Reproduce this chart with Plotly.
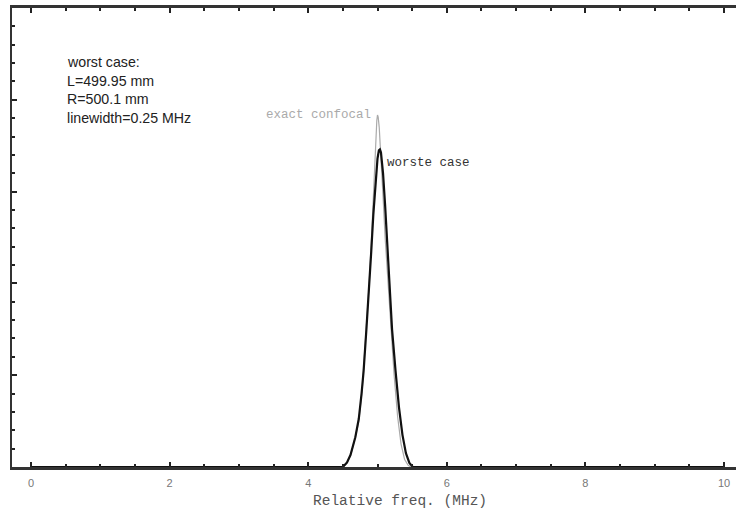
import plotly.graph_objects as go

# Data (x in MHz, y relative transmission)
x_exact = [0.0, 2.0, 4.0, 4.50, 4.56, 4.62, 4.68, 4.73, 4.78, 4.84, 4.88, 4.92, 4.95, 4.975, 4.99, 5.0,
           5.01, 5.025, 5.05, 5.08, 5.11, 5.15, 5.19, 5.24, 5.29, 5.34, 5.39, 5.44, 5.48, 6.0, 8.0, 10.0]
y_exact = [0.0, 0.0, 0.0, 0.0, 0.008, 0.03, 0.065, 0.10, 0.17, 0.30, 0.40, 0.52, 0.63, 0.71, 0.755, 0.767,
           0.762, 0.74, 0.68, 0.59, 0.50, 0.40, 0.30, 0.20, 0.11, 0.05, 0.017, 0.004, 0.0, 0.0, 0.0, 0.0]

x_worst = [0.0, 2.0, 4.0, 4.50, 4.56, 4.61, 4.68, 4.73, 4.77, 4.80, 4.84, 4.88, 4.91, 4.94, 4.97, 5.00, 5.02, 5.035,
           5.05, 5.08, 5.11, 5.14, 5.17, 5.21, 5.26, 5.31, 5.36, 5.41, 5.46, 5.51, 6.0, 8.0, 10.0]
y_worst = [0.0, 0.0, 0.0, 0.0, 0.010, 0.026, 0.065, 0.105, 0.16, 0.21, 0.30, 0.39, 0.47, 0.55, 0.62, 0.672, 0.69, 0.692,
           0.685, 0.64, 0.57, 0.48, 0.39, 0.30, 0.21, 0.13, 0.07, 0.03, 0.009, 0.0, 0.0, 0.0, 0.0]

x_ticks = [0, 2, 4, 6, 8, 10]
x_tick_labels = ["0", "2", "4", "6", "8", "10"]

info_lines = ["worst case:", "L=499.95 mm", "R=500.1 mm", "linewidth=0.25 MHz"]

fig = go.Figure()
fig.add_trace(go.Scatter(x=x_exact, y=y_exact, mode="lines",
                         line=dict(color="#aaaaaa", width=1.2, shape="linear"),
                         showlegend=False, hoverinfo="skip"))
fig.add_trace(go.Scatter(x=x_worst, y=y_worst, mode="lines",
                         line=dict(color="#111111", width=2.2, shape="linear"),
                         showlegend=False, hoverinfo="skip"))

# px -> data helpers for annotation placement
def yd(py):
    return (467 - py) / 459.0

def xd(px):
    return (px - 31) / 69.3

annotations = []
for i, t in enumerate(info_lines):
    annotations.append(dict(x=xd(65), y=yd(62 + 18.6 * i), xref="x", yref="y", text=t,
                            showarrow=False, xanchor="left", yanchor="middle",
                            font=dict(family="Liberation Sans", size=14.2, color="#222222")))
annotations.append(dict(x=xd(373), y=yd(115), xref="x", yref="y", text="exact confocal",
                        showarrow=False, xanchor="right", yanchor="middle",
                        font=dict(family="Liberation Mono", size=12.5, color="#aaaaaa")))
annotations.append(dict(x=xd(385), y=yd(163), xref="x", yref="y", text="worste case",
                        showarrow=False, xanchor="left", yanchor="middle",
                        font=dict(family="Liberation Mono", size=12.5, color="#333333")))
annotations.append(dict(x=xd(400), y=-0.075, xref="x", yref="paper", text="Relative freq. (MHz)",
                        showarrow=False, xanchor="center", yanchor="middle",
                        font=dict(family="Liberation Mono", size=14.5, color="#555555")))

fig.update_layout(
    width=736, height=510,
    margin=dict(l=12, r=0, t=8, b=43),
    paper_bgcolor="white", plot_bgcolor="white",
    annotations=annotations,
    xaxis=dict(range=[xd(12), xd(736)], tickvals=x_ticks, ticktext=x_tick_labels,
               ticks="inside", ticklen=5, tickwidth=1.5, tickcolor="#222",
               showline=True, linewidth=2.5, linecolor="#333", mirror="ticks",
               showgrid=False, zeroline=False, ticklabelstandoff=4,
               tickfont=dict(family="Liberation Sans", size=11, color="#777777"),
               minor=dict(dtick=0.5, tick0=0, ticks="inside", ticklen=3, tickwidth=1.5,
                          tickcolor="#222", showgrid=False)),
    yaxis=dict(range=[0, 1], dtick=0.2, tick0=0, ticks="inside", ticklen=5, tickwidth=1.5,
               tickcolor="#222", showticklabels=False, mirror=False,
               showline=True, linewidth=2, linecolor="#333",
               showgrid=False, zeroline=False,
               minor=dict(dtick=0.04, tick0=0, ticks="inside", ticklen=3, tickwidth=1.5,
                          tickcolor="#222", showgrid=False)),
)

fig.write_html("out.html")
